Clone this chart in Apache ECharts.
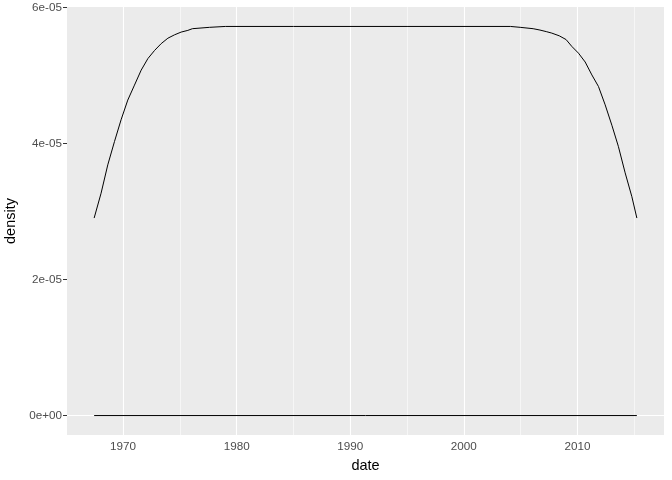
<!DOCTYPE html>
<html>
<head>
<meta charset="utf-8">
<script src="https://cdn.jsdelivr.net/npm/echarts@6/dist/echarts.min.js"></script>
<style>html,body{margin:0;padding:0;background:#fff;}#c{width:672px;height:480px;}</style>
</head>
<body>
<div id="c"></div>
<script>
// decimal years and density values
var years = [1967.45, 1968.06, 1968.65, 1969.24, 1969.82, 1970.41, 1971.0, 1971.59, 1972.18, 1972.77,
  1973.35, 1973.94, 1974.53, 1975.11, 1975.7, 1976.1, 1977.6, 1979.0, 1985.0, 1995.0, 2004.1, 2004.96,
  2006.1, 2006.7, 2007.3, 2007.74, 2008.4, 2009.0, 2009.5, 2010.09, 2010.68, 2011.27, 2011.85, 2012.44,
  2013.03, 2013.6, 2014.2, 2014.79, 2015.23];
var density = [2.905e-5, 3.27e-5, 3.687e-5, 4.03e-5, 4.35e-5, 4.64e-5, 4.86e-5, 5.08e-5, 5.25e-5, 5.37e-5,
  5.47e-5, 5.55e-5, 5.60e-5, 5.64e-5, 5.665e-5, 5.69e-5, 5.71e-5, 5.723e-5, 5.723e-5, 5.723e-5, 5.723e-5, 5.71e-5,
  5.69e-5, 5.67e-5, 5.645e-5, 5.625e-5, 5.585e-5, 5.53e-5, 5.43e-5, 5.33e-5, 5.20e-5, 5.01e-5, 4.84e-5, 4.57e-5,
  4.27e-5, 3.96e-5, 3.57e-5, 3.22e-5, 2.905e-5];
var xRange = [1967.45, 2015.23];
var xTicks = [1970, 1980, 1990, 2000, 2010];
var xMinor = [1975, 1985, 1995, 2005, 2015];
var yTicks = [0, 2e-5, 4e-5, 6e-5];
var yTickLabels = ['0e+00', '2e-05', '4e-05', '6e-05'];
var yMinor = [1e-5, 3e-5, 5e-5];

var curve = years.map(function (x, i) { return [x, density[i]]; });
var baseLine = [[xRange[0], 0], [xRange[1], 0]];

var xMin = 1965.06, xMax = 2017.62, yMin = -2.86e-6, yMax = 6.009e-5;

function gridLines(vals, key, width) {
  return vals.map(function (v) { var o = {}; o[key] = v; o.lineStyle = {color: '#ffffff', width: width, type: 'solid'}; return o; });
}

var chart = echarts.init(document.getElementById('c'), null, {renderer: 'canvas'});
chart.setOption({
  animation: false,
  backgroundColor: '#ffffff',
  grid: {left: 67, right: 8, top: 7, bottom: 45, show: true, backgroundColor: '#EBEBEB', borderWidth: 0,
    containLabel: false, outerBoundsMode: 'none'},
  xAxis: {
    type: 'value', min: xMin, max: xMax,
    name: 'date', nameLocation: 'middle', nameGap: 23,
    nameTextStyle: {color: '#000000', fontSize: 14.5, fontFamily: 'Liberation Sans'},
    axisLine: {show: false},
    axisTick: {show: true, length: 4, customValues: xTicks, lineStyle: {color: '#333333', width: 1}},
    axisLabel: {customValues: xTicks, color: '#4D4D4D', fontSize: 11.7, fontFamily: 'Liberation Sans', margin: 6,
      formatter: function (v) { return String(Math.round(v)); }},
    splitLine: {show: false}
  },
  yAxis: {
    type: 'value', min: yMin, max: yMax,
    name: 'density', nameLocation: 'middle', nameGap: 49, nameRotate: 90,
    nameTextStyle: {color: '#000000', fontSize: 14.5, fontFamily: 'Liberation Sans'},
    axisLine: {show: false},
    axisTick: {show: true, length: 4, customValues: yTicks, lineStyle: {color: '#333333', width: 1}},
    axisLabel: {customValues: yTicks, color: '#4D4D4D', fontSize: 11.7, fontFamily: 'Liberation Sans', margin: 5,
      formatter: function (v) {
        for (var i = 0; i < yTicks.length; i++) { if (Math.abs(v - yTicks[i]) < 1e-9) return yTickLabels[i]; }
        return '';
      }},
    splitLine: {show: false}
  },
  series: [
    {
      type: 'line', data: [], z: 1, silent: true,
      markLine: {
        z: 1, silent: true, symbol: ['none', 'none'], label: {show: false}, animation: false,
        emphasis: {disabled: true},
        data: [].concat(
          gridLines(xMinor, 'xAxis', 0.55), gridLines(yMinor, 'yAxis', 0.55),
          gridLines(xTicks, 'xAxis', 1.1), gridLines(yTicks, 'yAxis', 1.1))
      }
    },
    {
      type: 'line', data: curve, z: 3, showSymbol: false, symbol: 'none', smooth: false,
      lineStyle: {color: '#000000', width: 1}
    },
    {
      type: 'line', data: baseLine, z: 3, showSymbol: false, symbol: 'none',
      lineStyle: {color: '#000000', width: 1}
    }
  ]
});
</script>
</body>
</html>
